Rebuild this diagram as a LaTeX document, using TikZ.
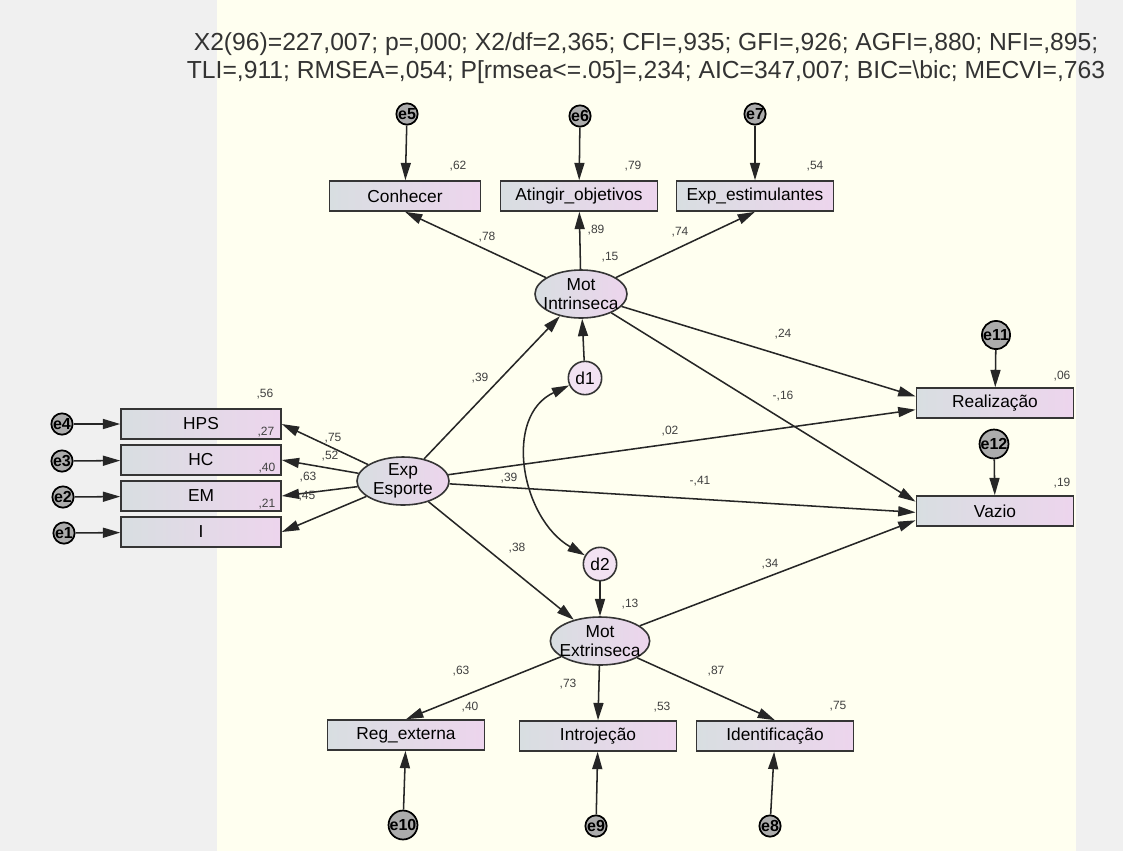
\documentclass[tikz,border=0pt]{standalone}
\usepackage{fontspec}
\setmainfont{Liberation Sans}
\usetikzlibrary{arrows.meta,shapes.geometric}
\definecolor{bggray}{HTML}{F0F0F0}
\definecolor{cream}{HTML}{FFFFF0}
\definecolor{boxl}{HTML}{D8DEE1}
\definecolor{boxr}{HTML}{EDD5ED}
\definecolor{edgec}{HTML}{353535}

\begin{document}
\begin{tikzpicture}
  [x=0.75pt,y=-0.75pt,
   obs/.style={rectangle,draw=edgec,line width=1.2pt,left color=boxl,right color=boxr,
     minimum width=118pt,minimum height=22.5pt,inner sep=0pt,font=\fontsize{13}{14}\selectfont},
   lat/.style={ellipse,draw=edgec,line width=1.2pt,left color=boxl,right color=boxr,
     minimum width=69pt,minimum height=36pt,inner xsep=-4pt,inner ysep=-2pt,align=center,
     font=\fontsize{13}{14}\selectfont},
   dist/.style={circle,draw=edgec,line width=1.2pt,fill=boxr!70!white,minimum size=25pt,
     inner sep=0pt,font=\fontsize{13}{13}\selectfont},
   err/.style={circle,draw=black,line width=1.3pt,fill=gray!65,minimum size=16pt,
     inner sep=0pt,font=\fontsize{12}{12}\selectfont\bfseries},
   val/.style={inner sep=0pt,text=black!75,font=\fontsize{9}{9}\selectfont},
   reg/.style={-{Triangle[length=13pt,width=7.5pt]},line width=1.15pt,draw=black!85},
   cov/.style={{Triangle[length=13pt,width=7.5pt]}-{Triangle[length=13pt,width=7.5pt]},
     line width=1.15pt,draw=black!85}]
  \useasboundingbox (0,0) rectangle (1123,851);
  \fill[bggray] (0,0) rectangle (1123,851);
  \fill[cream] (217,0) rectangle (1076,851);
  \node[align=center,font=\fontsize{18.5}{20.5}\selectfont,text=black!80] (fit) at (646,58)
    {X2(96)=227,007; p=,000; X2/df=2,365; CFI=,935; GFI=,926; AGFI=,880; NFI=,895;\\
     TLI=,911; RMSEA=,054; P[rmsea<=.05]=,234; AIC=347,007; BIC=\textbackslash bic; MECVI=,763};
  % motivacao intrinseca
  \node[err] (e5) at (407,114) {e5};
  \node[err] (e6) at (580,116) {e6};
  \node[err] (e7) at (755,114) {e7};
  \node[obs,minimum width=113pt] (conh) at (405,196) {Conhecer};
  \node[obs] (ating) at (579,196) {Atingir\_objetivos};
  \node[obs] (estim) at (755,196) {Exp\_estimulantes};
  \node[lat] (intr) at (581,294) {Mot\\Intrinseca};
  \node[dist] (d1) at (585,378) {d1};
  % exp esporte
  \node[lat] (esp) at (403,481) {Exp\\Esporte};
  \node[obs,minimum width=120pt] (hps) at (201,424) {HPS};
  \node[obs,minimum width=120pt] (hc) at (201,460) {HC};
  \node[obs,minimum width=120pt] (em) at (201,496) {EM};
  \node[obs,minimum width=120pt] (ii) at (201,532) {I};
  \node[err] (e4) at (62,424) {e4};
  \node[err] (e3) at (62,461) {e3};
  \node[err] (e2) at (63,497) {e2};
  \node[err] (e1) at (64,533) {e1};
  % resultados
  \node[obs] (real) at (995,403) {Realização};
  \node[obs] (vazio) at (995,511) {Vazio};
  \node[err] (e11) at (996,335) {e11};
  \node[err] (e12) at (994,444) {e12};
  % motivacao extrinseca
  \node[dist] (d2) at (600,564) {d2};
  \node[lat] (extr) at (600,641) {Mot\\Extrinseca};
  \node[obs] (regext) at (406,735) {Reg\_externa};
  \node[obs] (introj) at (598,736) {Introjeção};
  \node[obs] (ident) at (775,736) {Identificação};
  \node[err] (e10) at (403,825) {e10};
  \node[err] (e9) at (596,826) {e9};
  \node[err] (e8) at (770,826) {e8};
  \foreach \from/\to in {e5/conh,e6/ating,e7/estim,e4/hps,e3/hc,e2/em,e1/ii,
      e11/real,e12/vazio,e10/regext,e9/introj,e8/ident,d1/intr,d2/extr,intr/ating,esp/intr,esp/extr}
    \draw[reg] (\from) -- (\to);
  \foreach \to in {conh,estim}
    \draw[reg] (intr) -- (\to.south);
  \foreach \to in {hps,hc,em,ii}
    \draw[reg] (esp) -- (\to.east);
  \foreach \to in {regext,introj,ident}
    \draw[reg] (extr) -- (\to.north);
  \draw[reg] (intr) -- ([yshift=5pt]real.west);
  \draw[reg] (esp) -- ([yshift=-5pt]real.west);
  \draw[reg] (intr) -- ([yshift=7pt]vazio.west);
  \draw[reg] (esp) -- ([yshift=-1pt]vazio.west);
  \draw[reg] (extr) -- ([yshift=-7pt]vazio.west);
  \draw[cov] (d1.205) to[out=205,in=150,looseness=1.1] (d2.150);
  \foreach \x/\y/\t [count=\i] in {458/166/{,62},633/166/{,79},815/166/{,54},487/237/{,78},
      596/230/{,89},680/232/{,74},610/257/{,15},480/378/{,39},783/334/{,24},783/396/{-,16},
      670/431/{,02},509/478/{,39},700/481/{-,41},517/548/{,38},770/564/{,34},630/604/{,13},
      461/671/{,63},568/684/{,73},716/671/{,87},470/707/{,40},662/707/{,53},838/706/{,75},
      1062/376/{,06},1062/483/{,19},265/394/{,56},266/432/{,27},267/468/{,40},267/504/{,21},
      333/438/{,75},330/456/{,52},308/477/{,63},307/496/{,45}}
    \node[val] (v\i) at (\x,\y) {\t};
\end{tikzpicture}
\end{document}
